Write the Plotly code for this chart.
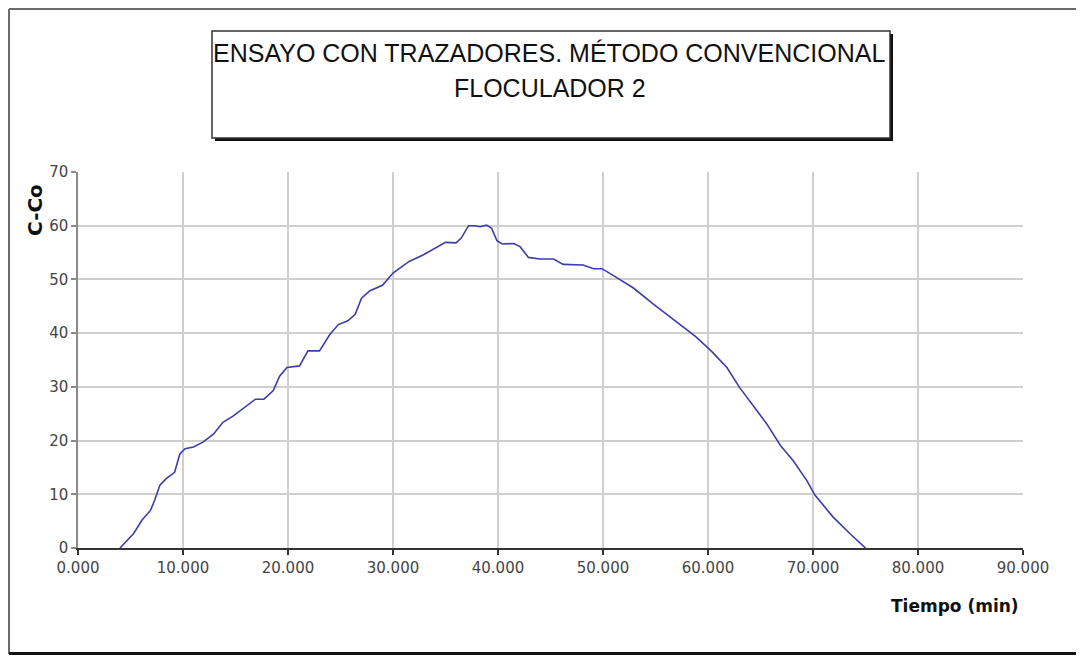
import plotly.graph_objects as go

# Data
tiempo_min = [4.0, 5.3, 6.1, 6.9, 7.3, 7.8, 8.4, 9.2, 9.7, 10.2,
              11.0, 11.9, 12.9, 13.8, 14.8, 16.1, 16.9, 17.7, 18.6, 19.2,
              19.9, 21.1, 21.9, 23.0, 24.0, 24.8, 25.7, 26.4, 27.0, 27.8,
              29.0, 30.0, 31.5, 32.9, 34.0, 35.0, 36.0, 36.5, 37.2, 37.8,
              38.3, 38.9, 39.4, 39.9, 40.4, 41.5, 42.1, 42.9, 44.0, 45.3,
              46.2, 48.1, 49.1, 49.9, 51.0, 52.9, 54.8, 57.3, 58.8, 60.3,
              61.8, 63.0, 64.3, 65.6, 66.9, 68.1, 69.4, 70.2, 71.9, 73.5,
              75.0]
c_co = [0, 2.7, 5.2, 7.0, 8.9, 11.7, 12.9, 14.1, 17.5, 18.5,
        18.8, 19.7, 21.2, 23.4, 24.6, 26.5, 27.7, 27.7, 29.3, 32.0,
        33.6, 33.9, 36.7, 36.7, 39.8, 41.6, 42.3, 43.5, 46.5, 47.9,
        48.9, 51.2, 53.3, 54.6, 55.8, 56.9, 56.8, 57.7, 60.0, 60.0,
        59.8, 60.1, 59.5, 57.2, 56.6, 56.7, 56.1, 54.1, 53.8, 53.8,
        52.8, 52.7, 52.0, 52.0, 50.7, 48.4, 45.4, 41.6, 39.4, 36.7,
        33.6, 29.9, 26.5, 23.1, 19.1, 16.3, 12.6, 9.8, 5.8, 2.7,
        0]

x_ticks = [0, 10, 20, 30, 40, 50, 60, 70, 80, 90]
y_ticks = [0, 10, 20, 30, 40, 50, 60, 70]

title_line1 = "ENSAYO CON TRAZADORES. MÉTODO CONVENCIONAL"
title_line2 = "FLOCULADOR 2"
y_title = "C-Co"
x_title = "Tiempo (min)"

OFF = 8  # page body margin
W, H = 1068, 647
# plot area in page pixels: x 78..1023, y 172..548
L = 78 - OFF
T = 172 - OFF
R = W - (1023 - OFF)
B = H - (548 - OFF)
PW, PH = W - L - R, H - T - B


def px(x):
    return (x - OFF - L) / PW


def py(y):
    return (H - B - (y - OFF)) / PH


fig = go.Figure()
fig.add_trace(go.Scatter(
    x=tiempo_min, y=c_co, mode="lines",
    line=dict(color="#3c3cac", width=1.6),
    hoverinfo="x+y", showlegend=False,
))

tick_font = dict(family="DejaVu Sans, Verdana, sans-serif", size=15, color="#444444")

fig.update_layout(
    width=W, height=H,
    margin=dict(l=L, r=R, t=T, b=B),
    paper_bgcolor="white", plot_bgcolor="white",
    showlegend=False,
    xaxis=dict(
        range=[0, 90], tickvals=x_ticks, tickformat=".3f",
        showgrid=True, gridcolor="#cfcfcf", gridwidth=1.5,
        zeroline=False, showline=True, linecolor="#333333", linewidth=2,
        ticks="outside", ticklen=5, tickcolor="#333333", tickwidth=1.5,
        tickfont=tick_font, fixedrange=True,
    ),
    yaxis=dict(
        range=[0, 70], tickvals=y_ticks,
        showgrid=True, gridcolor="#cfcfcf", gridwidth=1.5,
        zeroline=False, showline=True, linecolor="#8a8a8a", linewidth=1.5,
        ticks="outside", ticklen=5, tickcolor="#8a8a8a", tickwidth=1.5,
        tickfont=tick_font, fixedrange=True,
    ),
    shapes=[
        # outer frame: left, top, bottom edges only
        dict(type="line", xref="paper", yref="paper",
             x0=px(9), x1=px(9), y0=py(654), y1=py(9),
             line=dict(color="#6a6a6a", width=2)),
        dict(type="line", xref="paper", yref="paper",
             x0=px(9), x1=px(1090), y0=py(9), y1=py(9),
             line=dict(color="#6a6a6a", width=2)),
        dict(type="line", xref="paper", yref="paper",
             x0=px(9), x1=px(1090), y0=py(653.5), y1=py(653.5),
             line=dict(color="#111111", width=3)),
        # title box shadow
        dict(type="rect", xref="paper", yref="paper",
             x0=px(215), x1=px(893), y0=py(141), y1=py(34),
             fillcolor="#111111", line=dict(width=0)),
        # title box
        dict(type="rect", xref="paper", yref="paper",
             x0=px(212), x1=px(890), y0=py(138), y1=py(31),
             fillcolor="white", line=dict(color="#333333", width=1.5)),
    ],
    annotations=[
        dict(text=title_line1, xref="paper", yref="paper",
             x=px(549), y=py(53), xanchor="center", yanchor="middle",
             showarrow=False,
             font=dict(family="Liberation Sans, Arial, sans-serif", size=25, color="#111111")),
        dict(text=title_line2, xref="paper", yref="paper",
             x=px(550), y=py(88), xanchor="center", yanchor="middle",
             showarrow=False,
             font=dict(family="Liberation Sans, Arial, sans-serif", size=25, color="#111111")),
        dict(text="<b>" + y_title + "</b>", xref="paper", yref="paper",
             x=px(35), y=py(210), xanchor="center", yanchor="middle",
             textangle=-90, showarrow=False,
             font=dict(family="DejaVu Sans, Verdana, sans-serif", size=20, color="#111111")),
        dict(text="<b>" + x_title + "</b>", xref="paper", yref="paper",
             x=px(1021), y=py(606), xanchor="right", yanchor="middle",
             showarrow=False,
             font=dict(family="DejaVu Sans, Verdana, sans-serif", size=17, color="#111111")),
    ],
)

fig.write_html("out.html")
